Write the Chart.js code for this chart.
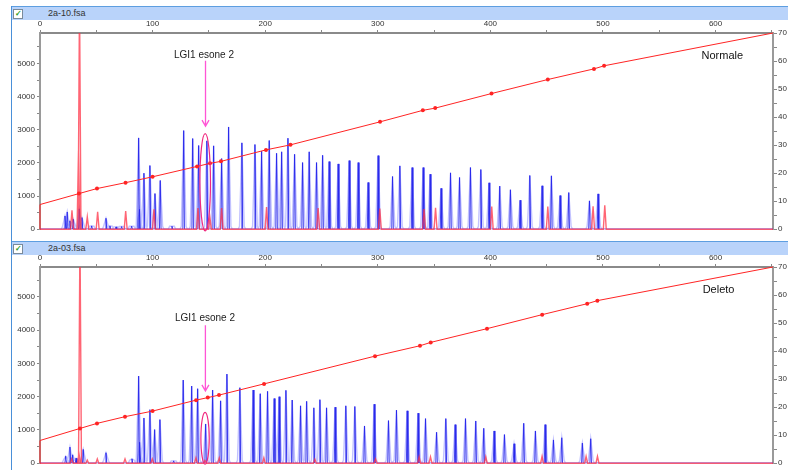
<!DOCTYPE html>
<html>
<head>
<meta charset="utf-8">
<script src="https://cdn.jsdelivr.net/npm/chart.js@4/dist/chart.umd.min.js"></script>
<style>
  html, body { margin: 0; padding: 0; background: #fff; }
  body { width: 788px; height: 470px; position: relative; overflow: hidden; font-family: "Liberation Sans", Arial, sans-serif; }
  canvas { position: absolute; left: 0; }
  .frame { position: absolute; left: 11px; top: 6px; width: 1px; height: 464px; background: #4a90d9; }
  .hdr { position: absolute; left: 11px; width: 777px; height: 13px; background: #b9d3fa; border-top: 1px solid #5d9ee0; }
  .cb { position: absolute; left: 2px; top: 2px; width: 8px; height: 8px; background: #fff; border: 1px solid #7a8a9a; color: #2a9a2a; font-size: 8px; line-height: 8px; text-align: center; font-weight: bold; }
  .name { position: absolute; left: 37px; top: 1px; font-size: 9px; color: #333; }
</style>
</head>
<body>
<div class="hdr" style="top:6px"><span class="cb">✓</span><span class="name">2a-10.fsa</span></div>
<canvas id="topChart" width="788" height="216" style="top:20px"></canvas>
<div class="hdr" style="top:241px"><span class="cb">✓</span><span class="name">2a-03.fsa</span></div>
<canvas id="bottomChart" width="788" height="216" style="top:254px"></canvas>
<div class="frame"></div>
<script>
// Scala comune (dimensione in bp sull'asse superiore)
const xTicks = [0, 100, 200, 300, 400, 500, 600];
const rfuTicks = [0, 1000, 2000, 3000, 4000, 5000];
const sizeTicks = [0, 10, 20, 30, 40, 50, 60, 70];

// Campione 2a-10 (Normale) - picchi blu
const topBlueX = [22.2, 24.2, 26.6, 29.6, 34.9, 37.3, 45.9, 58.6, 62.1, 67.5, 72.5, 81.4, 87.6, 88.4, 92.3, 97.6, 102.1, 106.8, 117.2,
  127.6, 135.6, 140.9, 148.2, 154.2, 161.3, 167.5, 179.3, 190.9, 196.8, 203.6, 210.1, 214.6, 220.2, 226.1, 233.2, 239.1, 245.6,
  251.0, 256.8, 264.8, 274.6, 282.6, 291.4, 300.3, 313.1, 319.6, 330.5, 340.3, 346.5, 356.2, 364.6, 372.6, 382.3, 391.5, 398.8,
  408.3, 417.8, 426.4, 435.0, 445.9, 454.2, 461.9, 469.6, 488.0, 495.6];
const topBlueH = [400, 520, 250, 300, 615, 350, 100, 330, 100, 70, 80, 90, 2755, 600, 1690, 1920, 1075, 1470, 90,
  2975, 2735, 2525, 2665, 2515, 2130, 3085, 2605, 2555, 2355, 2675, 2290, 2335, 2745, 2260, 2010, 2335, 2010,
  2230, 2040, 1970, 2070, 2010, 1410, 2220, 1590, 1910, 1860, 1860, 1660, 1233, 1700, 1560, 1860, 1800, 1400,
  1300, 1190, 875, 1620, 1310, 1610, 1015, 1105, 855, 1065];
// picchi rossi (standard)
const topRedX = [28.4, 34.2, 35.1, 42.0, 51.2, 76.1, 101.2, 140.3, 150.9, 161.3, 201.2, 247.0, 301.8, 341.1, 351.3, 401.2, 451.0, 491.2, 501.6];
const topRedH = [570, 2360, 7000, 370, 525, 545, 600, 635, 350, 635, 665, 635, 620, 605, 645, 685, 685, 690, 720];
// curva di calibrazione (asse destro)
const topSizeX = [0, 0, 34.6, 50.6, 76, 100, 139.5, 151, 160.7, 200.7, 222.5, 302, 340, 351, 401, 451, 492, 501, 651];
const topSizeY = [0, 8.8, 12.7, 14.5, 16.6, 18.7, 22.4, 23.5, 24.2, 28.3, 30.1, 38.3, 42.4, 43.2, 48.4, 53.4, 57.2, 58.3, 70];

// Campione 2a-03 (Deleto)
const botBlueX = [22.8, 26.6, 29.0, 32.0, 38.4, 58.6, 81.7, 87.6, 88.8, 92.3, 97.6, 101.8, 106.5, 118.7, 127.2, 134.7, 140.0,
  147.1, 153.3, 160.4, 166.0, 177.5, 189.3, 195.6, 202.1, 208.0, 212.4, 218.4, 224.0, 231.4, 236.8, 243.2, 248.6, 254.5,
  262.1, 271.6, 279.6, 288.2, 296.8, 309.5, 316.6, 326.1, 335.8, 342.4, 352.2, 360.4, 368.7, 377.9, 387.0, 394.1, 403.3,
  412.5, 421.0, 429.6, 440.0, 448.6, 456.0, 463.4, 481.7, 489.1];
const botBlueH = [210, 485, 250, 150, 415, 315, 130, 2620, 630, 1360, 1610, 1010, 1310, 70, 2500, 2320, 2240,
  1180, 2200, 1875, 2680, 2270, 2200, 2090, 2160, 1945, 2000, 2190, 1900, 1725, 1860, 1665, 1910, 1665,
  1685, 1725, 1705, 1120, 1775, 1280, 1595, 1575, 1505, 1340, 930, 1340, 1160, 1340, 1270, 1050, 970,
  860, 585, 1200, 970, 1160, 700, 765, 605, 735];
const botRedX = [28.1, 34.6, 35.5, 42.0, 50.9, 75.5, 99.7, 138.5, 146.5, 159.2, 198.8, 244.1, 298.0, 336.7, 346.8, 395.9, 445.9, 485.0, 495.1];
const botRedH = [130, 300, 7000, 90, 130, 130, 130, 160, 80, 160, 160, 120, 130, 190, 190, 190, 205, 205, 205];
const botSizeX = [0, 0, 35.5, 50.6, 75.5, 100, 138.6, 149, 159, 199, 297.5, 337.5, 347, 397, 446, 486, 495, 651];
const botSizeY = [0, 8.1, 12.4, 14.2, 16.6, 18.6, 22.5, 23.4, 24.3, 28.3, 38.2, 41.9, 43.1, 48, 53, 56.9, 58, 70];

const X_MAX = 651;

// costruisce la traccia a picchi (triangoli stretti, con piede opzionale)
function peakTrace(xs, hs, half, foot) {
  const pts = [{ x: 0, y: 0 }];
  xs.forEach((x, i) => {
    if (foot) {
      pts.push({ x: x - half - 1.2, y: 0 }, { x: x - half, y: Math.min(foot, hs[i]) }, { x: x, y: hs[i] },
               { x: x + half, y: Math.min(foot, hs[i]) }, { x: x + half + 1.2, y: 0 });
    } else {
      pts.push({ x: x - half, y: 0 }, { x: x, y: hs[i] }, { x: x + half, y: 0 });
    }
  });
  pts.push({ x: X_MAX, y: 0 });
  return pts;
}

// scritte, freccia ed ellisse
const notesPlugin = {
  id: 'notes',
  afterDatasetsDraw(chart, args, opts) {
    const { ctx } = chart;
    const x = chart.scales.x, y = chart.scales.y;
    ctx.save();
    ctx.font = '10px "Liberation Sans", Arial, sans-serif';
    ctx.fillStyle = '#222';
    ctx.textAlign = 'center';
    ctx.textBaseline = 'middle';
    ctx.fillText('LGI1 esone 2', x.getPixelForValue(opts.textX), y.getPixelForValue(opts.textY));
    // freccia
    const ax = x.getPixelForValue(opts.arrowX);
    const a0 = y.getPixelForValue(opts.arrowFrom), a1 = y.getPixelForValue(opts.arrowTo);
    ctx.strokeStyle = '#ff55d5';
    ctx.lineWidth = 1.3;
    ctx.beginPath();
    ctx.moveTo(ax, a0); ctx.lineTo(ax, a1);
    ctx.moveTo(ax - 3.5, a1 - 6); ctx.lineTo(ax, a1); ctx.lineTo(ax + 3.5, a1 - 6);
    ctx.stroke();
    // ellisse
    const ex = x.getPixelForValue(opts.ellX);
    const et = y.getPixelForValue(opts.ellTop), eb = y.getPixelForValue(opts.ellBottom);
    const rx = x.getPixelForValue(opts.ellX + opts.ellR) - ex;
    ctx.strokeStyle = '#f0287f';
    ctx.lineWidth = 1.2;
    ctx.beginPath();
    ctx.ellipse(ex, (et + eb) / 2, rx, (eb - et) / 2, 0, 0, Math.PI * 2);
    ctx.stroke();
    // etichetta campione
    ctx.font = '11px "Liberation Sans", Arial, sans-serif';
    ctx.textAlign = 'left';
    ctx.fillStyle = '#111';
    ctx.fillText(opts.label, x.getPixelForValue(opts.labelX), y.getPixelForValue(opts.labelY));
    ctx.restore();
  }
};

const axisFont = { family: '"Liberation Sans", Arial, sans-serif', size: 8 };

function makePanel(id, blueX, blueH, redX, redH, sizeX, sizeY, yMax, topH, notes) {
  const sizePts = sizeX.map((x, i) => ({ x: x, y: sizeY[i] }));
  const radii = sizePts.map((p, i) => (i < 2 || i === sizePts.length - 1) ? 0 : 2);
  return new Chart(document.getElementById(id), {
    type: 'line',
    data: {
      datasets: [
        { data: sizePts, yAxisID: 'y2', borderColor: '#ff2424', borderWidth: 1, pointRadius: radii,
          pointBackgroundColor: '#ff2424', pointBorderWidth: 0, tension: 0, clip: { left: 2, right: 2, top: 2, bottom: 2 } },
        { data: peakTrace(redX, redH, 1.3), borderColor: 'rgba(255,50,70,0.75)', borderWidth: 1.4, pointRadius: 0,
          clip: { left: 0, right: 0, top: 0, bottom: 3 } },
        { data: peakTrace(blueX, blueH, 0.7), borderColor: 'rgba(35,35,235,0.85)', borderWidth: 1, pointRadius: 0 },
        { data: peakTrace(blueX, blueH, 2.1, 90), borderColor: 'rgba(120,120,255,0.45)', borderWidth: 1.4, pointRadius: 0 }
      ]
    },
    options: {
      responsive: false,
      animation: false,
      devicePixelRatio: 1,
      layout: { padding: { left: 0, right: 0, top: 0, bottom: 3 } },
      plugins: { legend: { display: false }, tooltip: { enabled: false }, notes: notes },
      scales: {
        x: {
          type: 'linear', position: 'top', min: 0, max: X_MAX,
          afterBuildTicks: s => { s.ticks = []; for (let v = 0; v <= X_MAX; v += 50) s.ticks.push({ value: v }); },
          afterFit: s => { s.height = topH; },
          ticks: { autoSkip: false, maxRotation: 0, padding: 1, color: '#333', font: axisFont,
            callback: v => xTicks.includes(v) ? String(v) : '' },
          grid: { drawOnChartArea: false, tickLength: 3, color: '#888' },
          border: { color: '#8a8a8a', width: 2 }
        },
        y: {
          position: 'left', min: 0, max: yMax,
          afterBuildTicks: s => { s.ticks = []; for (let v = 0; v <= yMax; v += 500) s.ticks.push({ value: v }); },
          afterFit: s => { s.width = 40; },
          ticks: { autoSkip: false, padding: 2, color: '#333', font: axisFont,
            callback: v => rfuTicks.includes(v) ? String(v) : '' },
          grid: { drawOnChartArea: false, tickLength: 3, color: '#888' },
          border: { color: '#9a9a9a', width: 2 }
        },
        y2: {
          position: 'right', min: 0, max: 70,
          afterBuildTicks: s => { s.ticks = []; for (let v = 0; v <= 70; v += 5) s.ticks.push({ value: v }); },
          afterFit: s => { s.width = 15; },
          ticks: { autoSkip: false, padding: 1, color: '#333', font: axisFont,
            callback: v => sizeTicks.includes(v) ? String(v) : '' },
          grid: { drawOnChartArea: false, tickLength: 4, color: '#888' },
          border: { color: '#9a9a9a', width: 2 }
        }
      }
    },
    plugins: [notesPlugin]
  });
}

makePanel('topChart', topBlueX, topBlueH, topRedX, topRedH, topSizeX, topSizeY, 5920, 13, {
  textX: 145.6, textY: 5260, arrowX: 147, arrowFrom: 5080, arrowTo: 3110,
  ellX: 146.7, ellR: 4.7, ellTop: 2885, ellBottom: -50,
  label: 'Normale', labelX: 587.5, labelY: 5220
});
makePanel('bottomChart', botBlueX, botBlueH, botRedX, botRedH, botSizeX, botSizeY, 5900, 13, {
  textX: 146.5, textY: 4350, arrowX: 146.9, arrowFrom: 4150, arrowTo: 2175,
  ellX: 146.6, ellR: 3.7, ellTop: 1527, ellBottom: -30,
  label: 'Deleto', labelX: 588.5, labelY: 5215
});
</script>
</body>
</html>
